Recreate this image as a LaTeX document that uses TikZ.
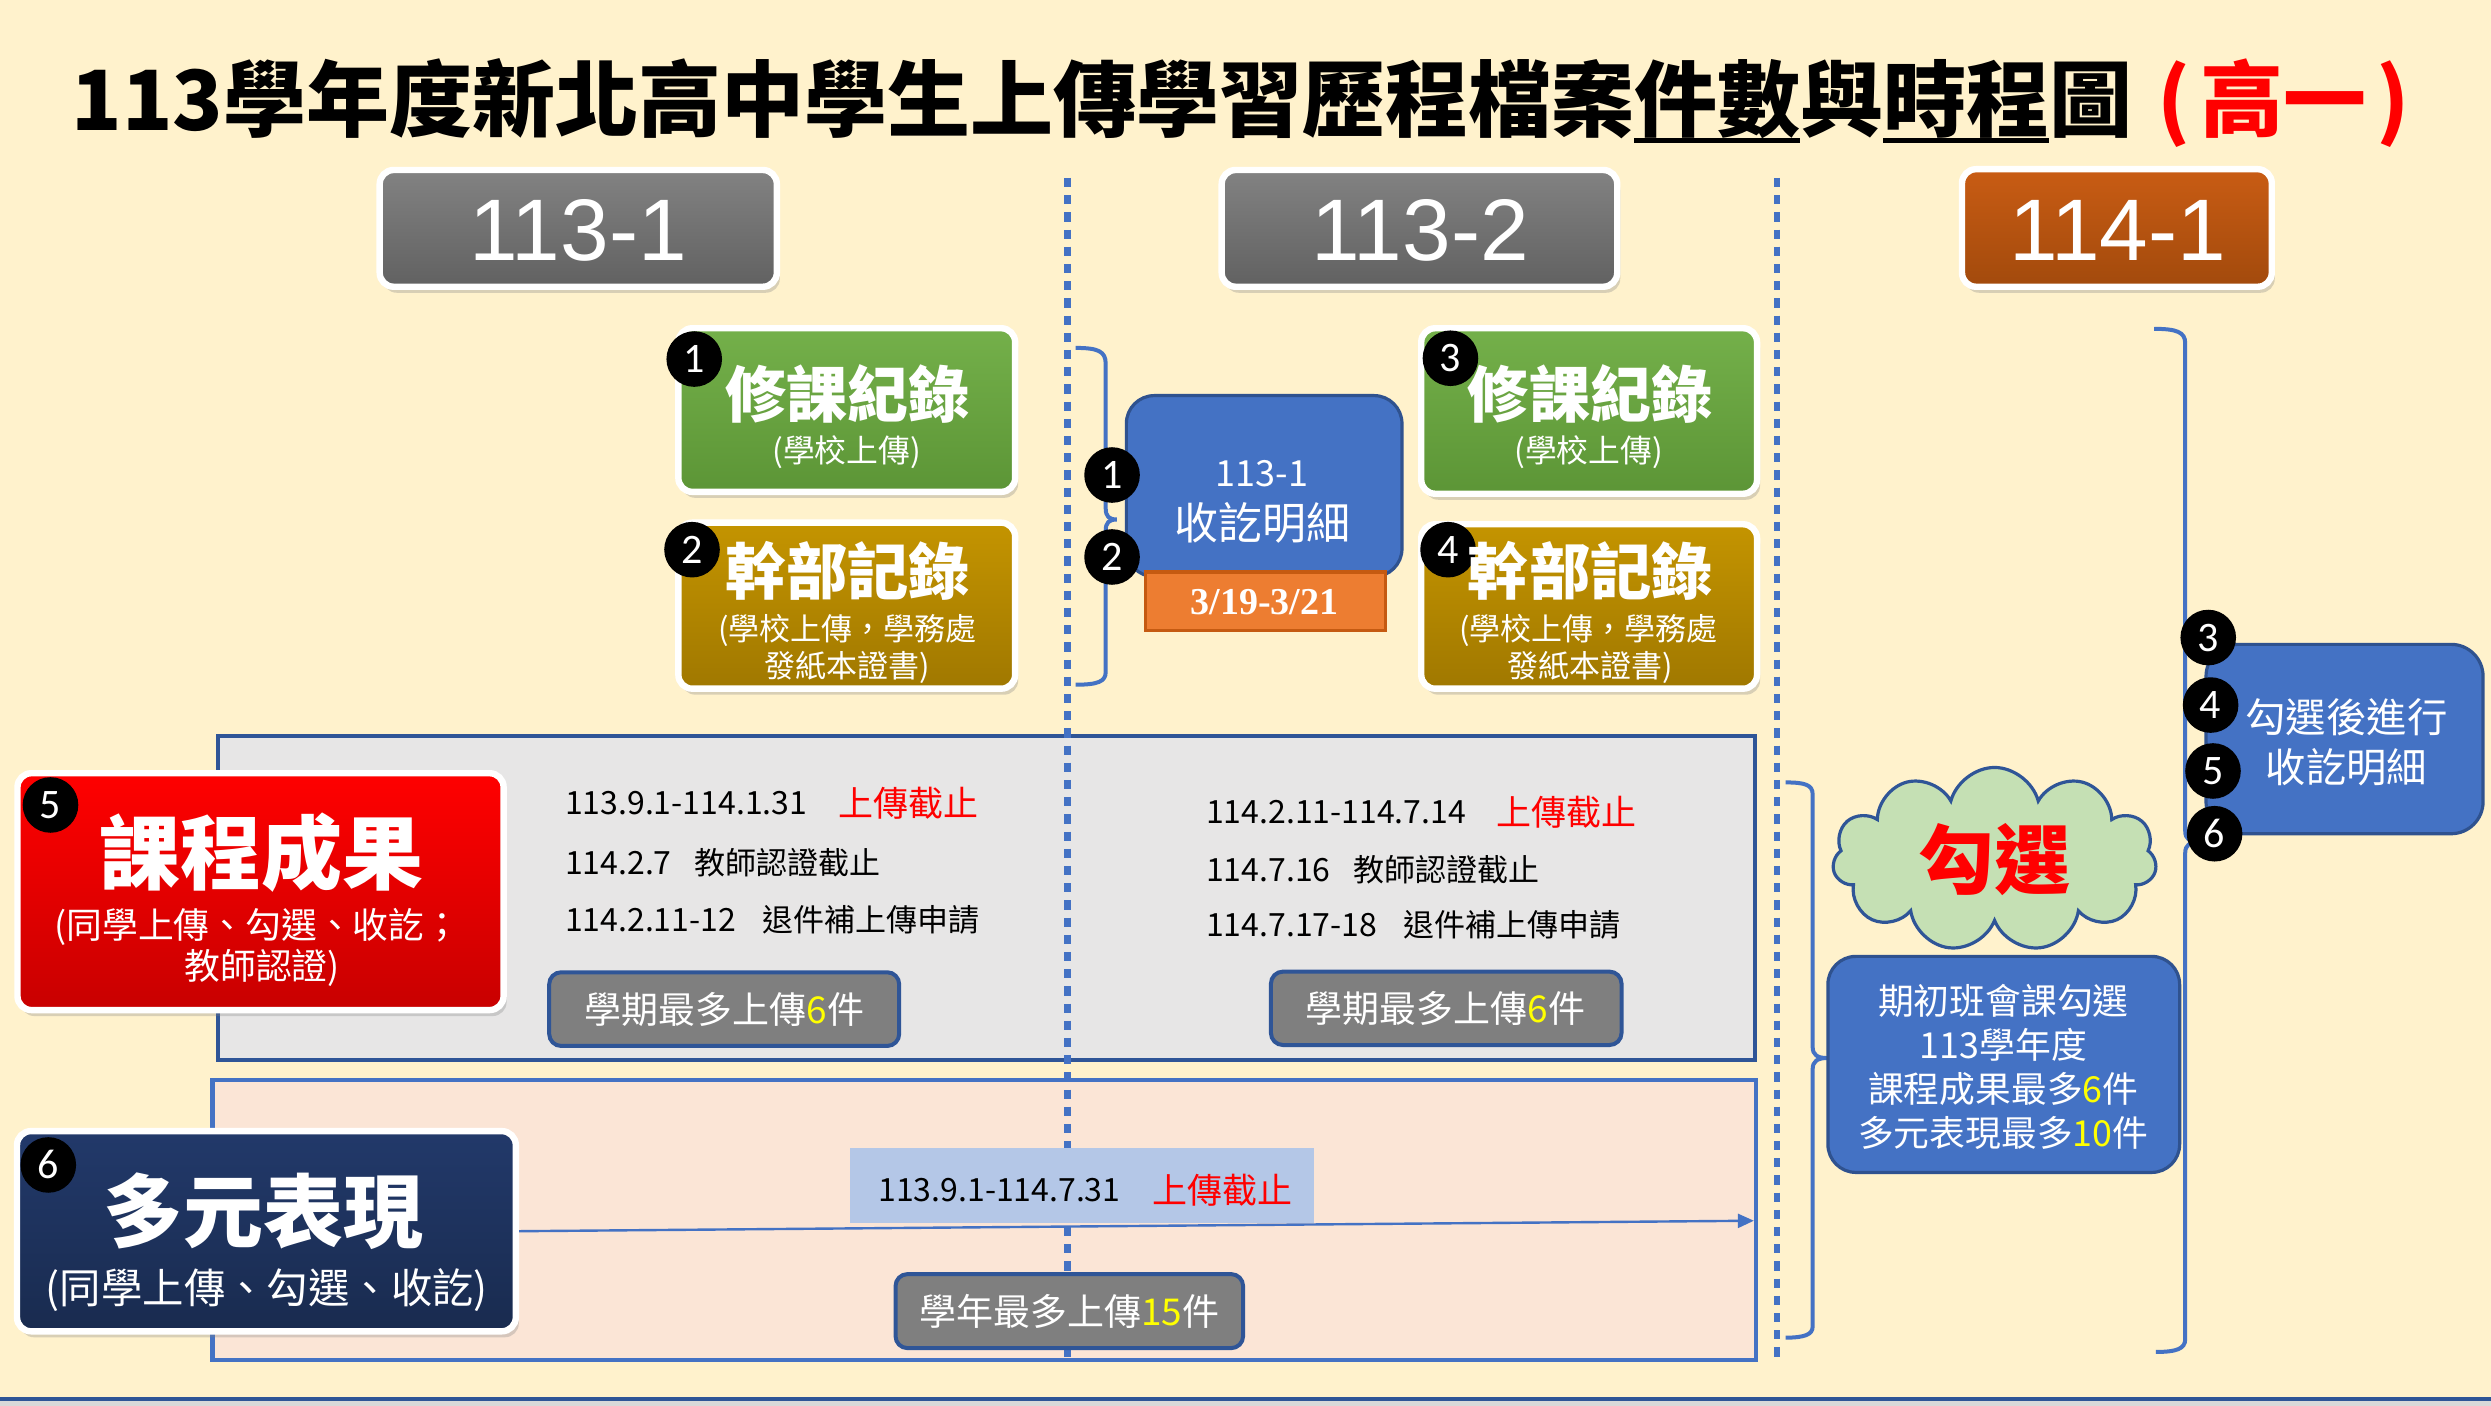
\documentclass[tikz,border=0pt]{standalone}
\usepackage{fontspec}
\setmainfont{Noto Sans CJK TC}
\newfontfamily\lsans{Liberation Sans}
\newfontfamily\lserif{Liberation Serif}
\newfontfamily\calib{Carlito}
\usetikzlibrary{shapes.symbols,shadows,fit,arrows.meta}
\definecolor{bgY}{HTML}{FFF2CC}
\definecolor{blueA}{HTML}{4472C4}
\definecolor{blueD}{HTML}{2F5597}
\definecolor{blueE}{HTML}{2F528F}
\definecolor{grayP}{HTML}{E7E6E6}
\definecolor{pinkP}{HTML}{FBE5D6}
\definecolor{lblue}{HTML}{B4C7E7}
\definecolor{grayB}{HTML}{7F7F7F}
\definecolor{orgA}{HTML}{ED7D31}
\definecolor{orgD}{HTML}{C55A11}
\definecolor{cloudG}{HTML}{C5E0B4}
\definecolor{greenT}{HTML}{74B04A}
\definecolor{greenB}{HTML}{5C9536}
\definecolor{goldT}{HTML}{C49400}
\definecolor{goldB}{HTML}{A07800}
\definecolor{redT}{HTML}{FF0000}
\definecolor{redB}{HTML}{C80000}
\definecolor{navyT}{HTML}{22396A}
\definecolor{navyB}{HTML}{192B4F}
\definecolor{hgT}{HTML}{828282}
\definecolor{hgB}{HTML}{616161}
\definecolor{hoT}{HTML}{C95C14}
\definecolor{hoB}{HTML}{A24A0C}
\definecolor{yelT}{HTML}{FFFF00}
\newcommand\myfs[1]{\fontsize{#1}{#1}\selectfont}
\newcommand\myul[1]{\setbox0\hbox{#1}\rlap{\rule[-0.15em]{\wd0}{0.065em}}\box0}
\begin{document}
\begin{tikzpicture}[x=0.79435pt,y=-0.79435pt,
  card/.style={draw=white, line width=3.2pt, rounded corners=7pt, inner sep=0pt,
    drop shadow={shadow xshift=1.5pt, shadow yshift=-3pt, opacity=0.3}},
  badge/.style={circle, fill=black, text=white, minimum size=27.8pt, inner sep=0pt, font=\calib\myfs{21pt}},
  brc/.style={draw=blueA, line width=2pt},
  vdash/.style={draw=blueA, line width=3.4pt, dash pattern=on 4.6pt off 4pt},
  gbox/.style={fill=grayB, draw=blueD, line width=2pt, rounded corners=6pt, inner sep=0pt},
  bluebox/.style={fill=blueA, draw=blueE, line width=1.6pt, rounded corners=14pt, inner sep=0pt},
  wt/.style={text=white, inner sep=0pt},
  hand/.style={inner sep=0pt, anchor=west},
]
\useasboundingbox (0,0) rectangle (1568,885);
\fill[bgY] (0,0) rectangle (1568,885);
\fill[black!15] (0,882) rectangle (1568,885);
\draw[blueD, line width=2pt] (0,880.8) -- (1568,880.8);

% title
\node[anchor=west, inner sep=0pt, font=\bfseries\myfs{41.5pt}] (title) at (45,65)
  {113學年度新北高中學生上傳學習歷程檔案\myul{件數}與\myul{時程}圖\hspace{0.3em}\textcolor{red}{(\kern0.12em高一\kern0.12em)}};

% panels
\node[fill=grayP, draw=blueD, line width=2pt, inner sep=0pt, fit={(137,463) (1105,667)}] (pnl1) {};
\node[fill=pinkP, draw=blueA, line width=2.2pt, inner sep=0pt, fit={(133.7,680) (1105.5,856)}] (pnl2) {};

% dashed separators
\draw[vdash] (672,112) -- (672,856);
\draw[vdash] (1118.5,112) -- (1118.5,856);

% label boxes
\node[fill=lblue, inner sep=0pt, fit={(535,722.8) (827.4,770)}] (lbl) {};
\node[gbox, fit={(345.7,612) (566,658.4)}] (gb1) {};
\node[gbox, fit={(800,611.6) (1020.7,657.8)}] (gb2) {};
\node[gbox, fit={(563.7,802) (782.5,848.6)}] (gb3) {};

% headers
\node[card, top color=hgT, bottom color=hgB, fit={(239,107) (489,180.5)}] (h1) {};
\node[card, top color=hgT, bottom color=hgB, fit={(769,107) (1018,180.5)}] (h2) {};
\node[card, top color=hoT, bottom color=hoB, fit={(1235,106.5) (1430,180.5)}] (h3) {};
\node[wt, font=\lsans\myfs{43.7pt}] (h1t) at (364,145) {113-1};
\node[wt, font=\lsans\myfs{43.7pt}] (h2t) at (894,145) {113-2};
\node[wt, font=\lsans\myfs{43.7pt}] (h3t) at (1333,145) {114-1};

% cards
\node[card, top color=greenT, bottom color=greenB, fit={(427,206.6) (639,309.6)}] (g1) {};
\node[card, top color=goldT, bottom color=goldB, fit={(427,329) (639,433.5)}] (y1) {};
\node[card, top color=greenT, bottom color=greenB, fit={(894.6,206.6) (1106,310.8)}] (g2) {};
\node[card, top color=goldT, bottom color=goldB, fit={(894.6,330) (1106,433.5)}] (y2) {};
\node[card, top color=redT, bottom color=redB, fit={(11,486.7) (317,635.8)}] (rd) {};
\node[card, top color=navyT, bottom color=navyB, fit={(10.7,712) (324.7,838)}] (nv) {};

% arrow
\coordinate (arrE) at (1104,768.4);
\draw[blueA, line width=1.2pt, -{Triangle[length=8pt,width=7pt]}] (nv.east) -- (arrE);

% braces
\draw[brc] (677,219) .. controls (691,219) and (696,221) .. (696,229) -- (696,320)
  .. controls (696,325) and (698,327) .. (703,327) .. controls (698,327) and (696,329) .. (696,334)
  -- (696,423) .. controls (696,429) and (691,431) .. (677,431);
\draw[brc] (1124,492.5) .. controls (1136,492.5) and (1141,494) .. (1141,500) -- (1141,659)
  .. controls (1141,664) and (1144,666) .. (1150,666) .. controls (1144,666) and (1141,668) .. (1141,673)
  -- (1141,835) .. controls (1141,840) and (1136,842) .. (1124,842);
\draw[brc] (1356,207) .. controls (1370,207) and (1375.5,209) .. (1375.5,216) -- (1375.5,523)
  .. controls (1375.5,528) and (1378,530) .. (1385,530) .. controls (1378,530) and (1375.5,532) .. (1375.5,537)
  -- (1375.5,843) .. controls (1375.5,849) and (1370,851) .. (1357,851);

% blue boxes and cloud
\node[bluebox, fit={(709,249) (882.5,363)}] (b1) {};
\node[fill=orgA, draw=orgD, line width=1.6pt, inner sep=0pt, fit={(721,360) (872,397)}] (o1) {};
\node[bluebox, fit={(1150.6,602) (1372,738)}] (b2) {};
\node[bluebox, rounded corners=16pt, fit={(1388.6,405.6) (1563,524.8)}] (b3) {};
\node[cloud, cloud puffs=11, aspect=1.75, draw=blueD, line width=1.6pt, fill=cloudG,
  minimum width=162pt, minimum height=92pt, inner sep=0pt, text=red,
  font=\bfseries\myfs{38pt}] (cl) at (1255.5,541) {勾選};

% badges
\node[badge] (bd1) at (437,226) {1};
\node[badge] (bd2) at (435.6,346) {2};
\node[badge] (bd3) at (913,225.5) {3};
\node[badge] (bd4) at (911.5,346) {4};
\node[badge] (bd5) at (31.8,506.7) {5};
\node[badge] (bd6) at (30.4,733.3) {6};
\node[badge] (bm1) at (700,299) {1};
\node[badge] (bm2) at (700,350.6) {2};
\node[badge] (br3) at (1390,401.3) {3};
\node[badge] (br4) at (1391.5,443.8) {4};
\node[badge] (br5) at (1393,485.3) {5};
\node[badge] (br6) at (1394,524.8) {6};

% card texts
\node[wt, font=\bfseries\myfs{30.6pt}] (g1a) at (533.5,248) {修課紀錄};
\node[wt, font=\myfs{15.9pt}] (g1b) at (533,284.5) {(學校上傳)};
\node[wt, font=\bfseries\myfs{30.6pt}] (y1a) at (533.5,359.5) {幹部記錄};
\node[wt, font=\myfs{15.5pt}] (y1b) at (533.5,397) {(學校上傳，學務處};
\node[wt, font=\myfs{15.5pt}] (y1c) at (533,420) {發紙本證書)};
\node[wt, font=\bfseries\myfs{30.6pt}] (g2a) at (1001,248) {修課紀錄};
\node[wt, font=\myfs{15.9pt}] (g2b) at (1000,284.5) {(學校上傳)};
\node[wt, font=\bfseries\myfs{30.6pt}] (y2a) at (1001,359.5) {幹部記錄};
\node[wt, font=\myfs{15.5pt}] (y2b) at (1000,397) {(學校上傳，學務處};
\node[wt, font=\myfs{15.5pt}] (y2c) at (1001,420) {發紙本證書)};
\node[wt, font=\bfseries\myfs{40.5pt}] (rda) at (164.5,537) {課程成果};
\node[wt, font=\myfs{17.9pt}] (rdb) at (162,583.5) {(同學上傳、勾選、收訖；};
\node[wt, font=\myfs{17.9pt}] (rdc) at (165,609.5) {教師認證)};
\node[wt, font=\bfseries\myfs{40pt}] (nva) at (166,762.7) {多元表現};
\node[wt, font=\myfs{20.7pt}] (nvb) at (168,812) {(同學上傳、勾選、收訖)};

% middle blue box texts
\node[wt, font=\myfs{18pt}] (b1a) at (794.5,298) {113-1};
\node[wt, font=\myfs{22pt}] (b1b) at (795,329) {收訖明細};
\node[wt, font=\lserif\bfseries\myfs{19pt}] (o1t) at (796,379) {3/19-3/21};

% date rows
\node[hand, font=\myfs{16pt}] (d1a) at (355.5,505.7) {113.9.1-114.1.31};
\node[hand, text=red, font=\myfs{17.5pt}] (d1b) at (527.7,505.7) {上傳截止};
\node[hand, font=\myfs{16pt}] (d2a) at (355.5,543) {114.2.7};
\node[hand, font=\myfs{15.5pt}] (d2b) at (437,543) {教師認證截止};
\node[hand, font=\myfs{16pt}] (d3a) at (355.5,579) {114.2.11-12};
\node[hand, font=\myfs{15.5pt}] (d3b) at (480,579) {退件補上傳申請};
\node[hand, font=\myfs{16pt}] (e1a) at (759,511) {114.2.11-114.7.14};
\node[hand, text=red, font=\myfs{17.5pt}] (e1b) at (942,511) {上傳截止};
\node[hand, font=\myfs{16pt}] (e2a) at (759,547.6) {114.7.16};
\node[hand, font=\myfs{15.5pt}] (e2b) at (852,547.6) {教師認證截止};
\node[hand, font=\myfs{16pt}] (e3a) at (759,582) {114.7.17-18};
\node[hand, font=\myfs{15.5pt}] (e3b) at (883,582) {退件補上傳申請};
\node[hand, font=\myfs{16pt}] (f1a) at (552.7,749) {113.9.1-114.7.31};
\node[hand, text=red, font=\myfs{17.5pt}] (f1b) at (725,749) {上傳截止};

% gray box texts
\node[wt, font=\myfs{18.5pt}] (gb1t) at (456,635.5) {學期最多上傳\textcolor{yelT}{6}件};
\node[wt, font=\myfs{18.5pt}] (gb2t) at (910,635) {學期最多上傳\textcolor{yelT}{6}件};
\node[wt, font=\myfs{18.5pt}] (gb3t) at (673,825.5) {學年最多上傳\textcolor{yelT}{15}件};

% right blue box texts
\node[wt, align=center, font=\fontsize{17.9pt}{22pt}\selectfont] (b2t) at (1261,671.5)
  {期初班會課勾選\\113學年度\\課程成果最多\textcolor{yelT}{6}件\\多元表現最多\textcolor{yelT}{10}件};
\node[wt, align=center, font=\fontsize{20.2pt}{24.9pt}\selectfont] (b3t) at (1477,467)
  {勾選後進行\\收訖明細};
\end{tikzpicture}
\end{document}
